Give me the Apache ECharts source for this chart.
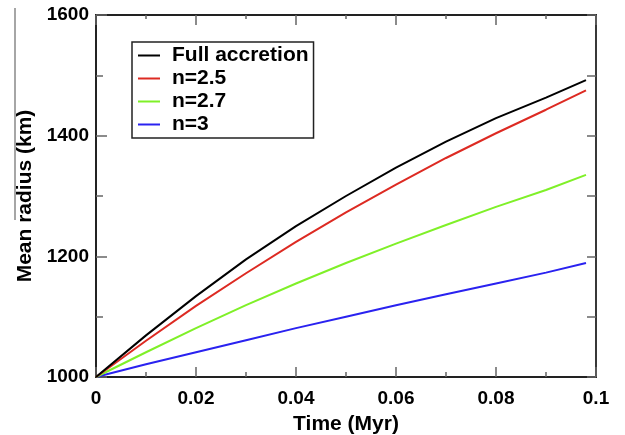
<!DOCTYPE html>
<html>
<head>
<meta charset="utf-8">
<script src="https://cdn.jsdelivr.net/npm/echarts@6/dist/echarts.min.js"></script>
<style>html,body{margin:0;padding:0;background:#fff;}#c{width:625px;height:435px;}</style>
</head>
<body>
<div id="c"></div>
<script>
var times = [0, 0.01, 0.02, 0.03, 0.04, 0.05, 0.06, 0.07, 0.08, 0.09, 0.098];
var fullAccretion = [1000, 1069, 1134, 1195, 1250, 1300, 1347, 1390, 1429, 1463, 1492];
var n25 = [1000, 1060, 1118, 1172, 1224, 1273, 1319, 1363, 1404, 1443, 1475];
var n27 = [1000, 1041, 1081, 1119, 1155, 1189, 1221, 1252, 1282, 1310, 1335];
var n3 = [1000, 1021, 1041, 1061, 1081, 1100, 1119, 1137, 1155, 1173, 1189];
var seriesNames = ['Full accretion', 'n=2.5', 'n=2.7', 'n=3'];
var xTickLabels = ['0', '0.02', '0.04', '0.06', '0.08', '0.1'];
var yTickLabels = ['1000', '1200', '1400', '1600'];

function pairs(ys) { return times.map(function (t, i) { return [t, ys[i]]; }); }

var FONT = 'Liberation Sans, Arial, Helvetica, sans-serif';
var colors = ['#000000', '#dd2a22', '#7ff028', '#2a22f0'];
var allData = [fullAccretion, n25, n27, n3];

var chart = echarts.init(document.getElementById('c'));
function tick(len) { return { show: true, inside: true, length: len, lineStyle: { color: '#666', width: 1.5 } }; }
var axisLineStyle = { show: true, onZero: false, lineStyle: { color: '#222', width: 1.8 } };
var hidden = { show: false };

function xAx(pos, interval, len, labels, extra) {
  var a = {
    type: 'value', min: 0, max: 0.1, interval: interval, position: pos, offset: 0,
    axisLine: axisLineStyle, axisTick: tick(len), splitLine: hidden,
    axisLabel: labels ? { fontFamily: FONT, fontWeight: 'bold', fontSize: 19, color: '#000', margin: 12,
      formatter: function (v) { return xTickLabels[Math.round(v / 0.02)]; } } : hidden
  };
  return Object.assign(a, extra || {});
}
function yAx(pos, interval, len, labels, extra) {
  var a = {
    type: 'value', min: 1000, max: 1600, interval: interval, position: pos, offset: 0,
    axisLine: axisLineStyle, axisTick: tick(len), splitLine: hidden,
    axisLabel: labels ? { fontFamily: FONT, fontWeight: 'bold', fontSize: 19, color: '#000', margin: 7,
      formatter: function (v) { return yTickLabels[Math.round((v - 1000) / 200)]; } } : hidden
  };
  return Object.assign(a, extra || {});
}

chart.setOption({
  animation: false,
  backgroundColor: '#fff',
  grid: { left: 96, right: 29, top: 15, bottom: 58, show: false, containLabel: false, outerBoundsMode: 'none' },
  legend: {
    orient: 'vertical', left: 132, top: 42,
    padding: [3, 5, 3, 6],
    borderColor: '#222', borderWidth: 1.5,
    itemWidth: 22, itemHeight: 2, itemGap: 2,
    icon: 'rect',
    textStyle: { fontFamily: FONT, fontWeight: 'bold', fontSize: 21, color: '#000', lineHeight: 20, padding: [0, 0, 0, 7] },
    data: seriesNames
  },
  xAxis: [
    xAx('bottom', 0.02, 10, true, {
      name: 'Time (Myr)', nameLocation: 'middle', nameGap: 37,
      nameTextStyle: { fontFamily: FONT, fontWeight: 'bold', fontSize: 21, color: '#000' }
    }),
    xAx('top', 0.02, 10, false),
    xAx('bottom', 0.01, 5, false),
    xAx('top', 0.01, 4, false)
  ],
  yAxis: [
    yAx('left', 200, 11, true, {
      name: 'Mean radius (km)', nameLocation: 'middle', nameGap: 60, nameRotate: 90,
      nameTextStyle: { fontFamily: FONT, fontWeight: 'bold', fontSize: 21, color: '#000' }
    }),
    yAx('right', 100, 9, false),
    yAx('left', 100, 7, false)
  ],
  graphic: [{
    type: 'line', shape: { x1: 15, y1: 8, x2: 15, y2: 220 },
    style: { stroke: '#888', lineWidth: 1.5 }
  }],
  series: seriesNames.map(function (name, i) {
    return {
      name: name, type: 'line', data: pairs(allData[i]),
      smooth: false, showSymbol: false, symbol: 'none',
      lineStyle: { color: colors[i], width: 2 },
      itemStyle: { color: colors[i] },
      z: 10 - i
    };
  })
});
</script>
</body>
</html>
